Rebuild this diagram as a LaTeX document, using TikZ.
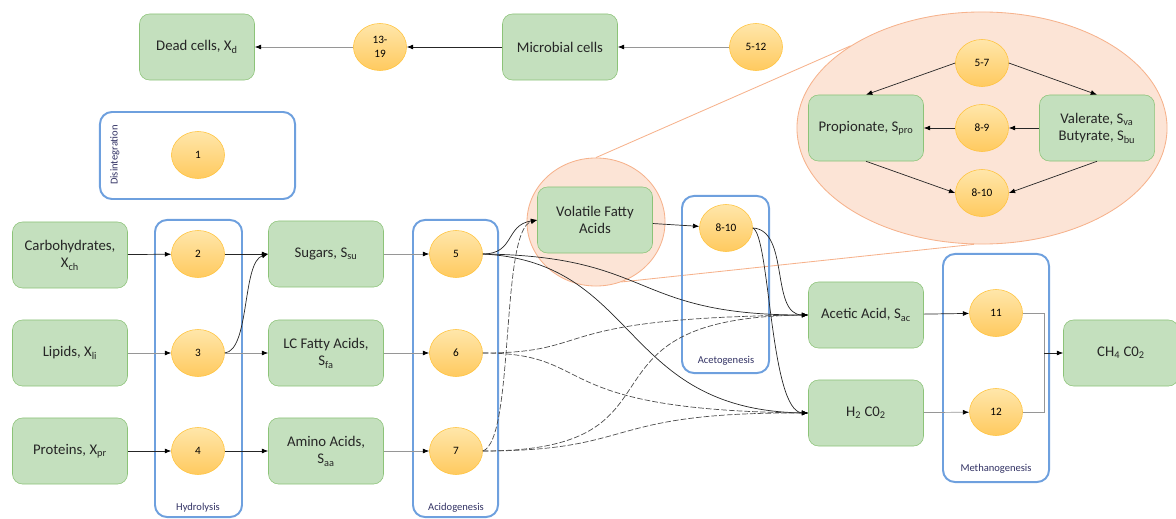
\documentclass[tikz,border=0pt]{standalone}
\usepackage{fontspec}
\setmainfont{Carlito}
\usepackage{tikz}
\usetikzlibrary{shapes.geometric, arrows.meta, positioning}
\definecolor{poolfill}{RGB}{196,224,190}
\definecolor{poolline}{RGB}{140,195,120}
\definecolor{proctop}{RGB}{255,230,170}
\definecolor{procbot}{RGB}{255,202,95}
\definecolor{procline}{RGB}{255,195,60}
\definecolor{stageline}{RGB}{110,160,222}
\definecolor{stagetext}{RGB}{50,50,100}
\definecolor{zoomfill}{RGB}{252,228,214}
\definecolor{zoomline}{RGB}{246,178,140}
\definecolor{flowgray}{RGB}{150,150,150}
\newcommand\poolfont{\fontsize{10.5}{12.5}\selectfont}
\newcommand\procfont{\fontsize{8}{9.5}\selectfont}
\newcommand\stagefont{\fontsize{7.5}{9}\selectfont}
\tikzset{
    pool/.style={rounded corners=0.25cm, draw=poolline, fill=poolfill, align=center,
        minimum width=2.875cm, minimum height=1.65cm, font=\poolfont, text=black!85},
    proc/.style={ellipse, draw=procline, top color=proctop, bottom color=procbot,
        minimum width=1.325cm, minimum height=1.175cm, inner sep=0pt, align=center,
        font=\procfont},
    stage/.style={rounded corners=0.3cm, draw=stageline, line width=1.4pt},
    stage label/.style={font=\stagefont, text=stagetext},
    zoomarea/.style={ellipse, draw=zoomline, fill=zoomfill, line width=0.6pt},
    zoomlink/.style={draw=zoomline, line width=0.6pt},
    flow/.style={-{Latex[length=4.5pt,width=3.5pt,black]}, draw=black!85, line width=0.5pt},
    gray flow/.style={flow, draw=flowgray},
    dashed flow/.style={flow, draw=black!70, dash pattern=on 4pt off 1.5pt},
}
\begin{document}
\begin{tikzpicture}[x=0.025cm, y=-0.025cm]
    \useasboundingbox (0,0) rectangle (1176,519);

    % zoom areas
    \node[zoomarea, minimum width=3.45cm, minimum height=3.2cm] (vfazoom) at (596,222) {};
    \node[zoomarea, minimum width=9.25cm, minimum height=5.8cm] (bigzoom) at (982,128) {};
    \draw[zoomlink] (vfazoom.north) -- (bigzoom.148);
    \draw[zoomlink] (vfazoom.-67) -- (bigzoom.-94);

    % stages
    \node[stage, minimum width=4.875cm, minimum height=2.175cm] (disint) at (197.5,155.5) {};
    \node[stage, minimum width=2.175cm, minimum height=7.425cm] (hydro) at (198.5,368.5) {};
    \node[stage, minimum width=2.125cm, minimum height=7.425cm] (acido) at (455.5,368.5) {};
    \node[stage, minimum width=2.175cm, minimum height=4.425cm] (aceto) at (725.5,284.5) {};
    \node[stage, minimum width=2.65cm, minimum height=5.7cm] (metha) at (996,368) {};
    \node[stage label, rotate=90] (disintlab) at (115,155) {Disintegration};
    \node[stage label] (hydrolab) at (198,508) {Hydrolysis};
    \node[stage label] (acidolab) at (456,508) {Acidogenesis};
    \node[stage label] (acetolab) at (726,361) {Acetogenesis};
    \node[stage label] (methalab) at (996,469) {Methanogenesis};

    % top row
    \node[pool] (dead) at (197,47) {Dead cells, X\textsubscript{d}};
    \node[proc] (r1319) at (380,47) {13-\\19};
    \node[pool] (microb) at (560,47) {Microbial cells};
    \node[proc] (r512) at (756,47) {5-12};
    \node[proc] (r1) at (198,155) {1};

    % substrates
    \node[pool] (carb) at (70,255) {Carbohydrates,\\X\textsubscript{ch}};
    \node[pool] (lipid) at (70,353) {Lipids, X\textsubscript{li}};
    \node[pool] (prot) at (70,451) {Proteins, X\textsubscript{pr}};
    \node[proc] (r2) at (198,254) {2};
    \node[proc] (r3) at (198,353) {3};
    \node[proc] (r4) at (198,451) {4};
    \node[pool] (sugar) at (326,254) {Sugars, S\textsubscript{su}};
    \node[pool] (lcfa) at (326,353) {LC Fatty Acids,\\S\textsubscript{fa}};
    \node[pool] (amino) at (326,451) {Amino Acids,\\S\textsubscript{aa}};
    \node[proc] (r5) at (456,254) {5};
    \node[proc] (r6) at (456,353) {6};
    \node[proc] (r7) at (456,451) {7};
    \node[pool] (vfa) at (595,220) {Volatile Fatty\\Acids};
    \node[proc] (r810) at (726,228) {8-10};
    \node[pool] (acet) at (866,315) {Acetic Acid, S\textsubscript{ac}};
    \node[pool] (htwo) at (866,413) {H\textsubscript{2} C0\textsubscript{2}};
    \node[proc] (r11) at (996,313) {11};
    \node[proc] (r12) at (996,412) {12};
    \node[pool] (methane) at (1121,353) {CH\textsubscript{4} C0\textsubscript{2}};

    % inset
    \node[proc] (z57) at (982,63) {5-7};
    \node[proc] (z89) at (982,128) {8-9};
    \node[proc] (z810) at (982,193) {8-10};
    \node[pool] (prop) at (866,128) {Propionate, S\textsubscript{pro}};
    \node[pool] (valbu) at (1097,128) {Valerate, S\textsubscript{va}\\Butyrate, S\textsubscript{bu}};

    % connectors
    \draw[gray flow] (r512) -- (microb);
    \draw[flow] (microb) -- (r1319);
    \draw[gray flow] (r1319) -- (dead);

    \draw[flow] (carb) -- (r2);
    \draw[gray flow] (lipid) -- (r3);
    \draw[flow] (prot) -- (r4);
    \draw[flow] (r2) -- (sugar);
    \draw[flow] (r3.east) .. controls (250,350) and (242,262) .. (sugar.west);
    \draw[gray flow] (r3) -- (lcfa);
    \draw[flow] (r4) -- (amino);
    \draw[gray flow] (sugar) -- (r5);
    \draw[gray flow] (lcfa) -- (r6);
    \draw[gray flow] (amino) -- (r7);

    \draw[flow] (r5.east) .. controls (515,254) and (505,225) .. (vfa.west);
    \draw[flow] (r5.east) .. controls (655,256) and (630,315) .. (acet.west);
    \draw[flow] (r5.east) .. controls (640,262) and (620,410) .. (htwo.west);
    \draw[dashed flow] (r6.east) .. controls (600,353) and (540,318) .. (acet.west);
    \draw[dashed flow] (r6.east) .. controls (600,353) and (540,410) .. (htwo.west);
    \draw[dashed flow] (r7.east) .. controls (515,440) and (500,230) .. (vfa.west);
    \draw[dashed flow] (r7.east) .. controls (700,451) and (560,318) .. (acet.west);
    \draw[dashed flow] (r7.east) .. controls (640,451) and (600,412) .. (htwo.west);
    \draw[flow] (vfa) -- (r810);
    \draw[flow] (r810.east) .. controls (790,230) and (770,315) .. (acet.west);
    \draw[flow] (r810.east) .. controls (770,235) and (770,412) .. (htwo.west);

    \draw[flow] (acet) -- (r11);
    \draw[gray flow] (htwo) -- (r12);
    \coordinate (merge) at (1044,353);
    \draw[draw=flowgray, line width=0.5pt] (r11.east) -| (merge);
    \draw[draw=flowgray, line width=0.5pt] (r12.east) -| (merge);
    \draw[flow] (merge) -- (methane);

    \draw[flow] (z57.west) -- (prop.north);
    \draw[flow] (z57.east) -- (valbu.north);
    \draw[flow] (valbu) -- (z89);
    \draw[flow] (z89) -- (prop);
    \draw[flow] (prop.south) -- (z810.west);
    \draw[flow] (valbu.south) -- (z810.east);
\end{tikzpicture}
\end{document}
